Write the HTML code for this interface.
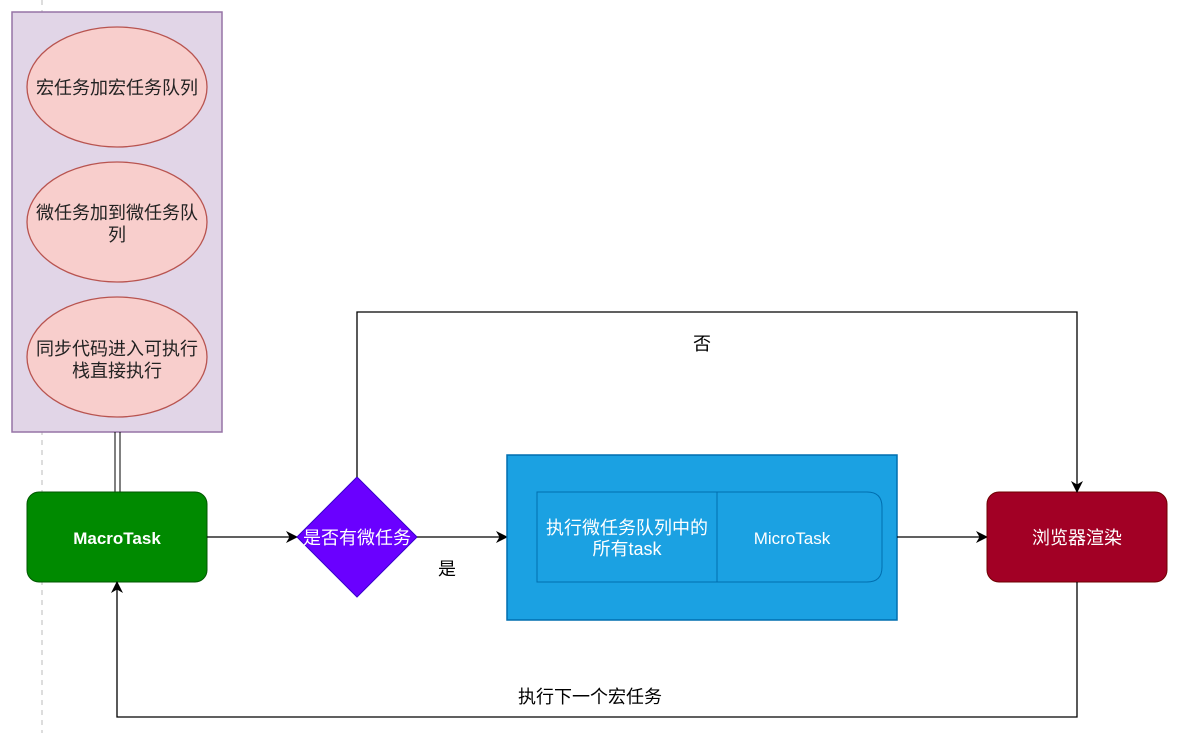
<!DOCTYPE html>
<html><head><meta charset="utf-8"><style>
html,body{margin:0;padding:0;background:#fff;width:1194px;height:733px;overflow:hidden}
text{font-family:"Liberation Sans","Noto Sans CJK SC",sans-serif;font-size:18px}
</style></head><body>
<svg width="1194" height="733" viewBox="0 0 1194 733" xmlns="http://www.w3.org/2000/svg">
<defs><marker id="a" markerWidth="12" markerHeight="12" refX="11" refY="6" orient="auto" markerUnits="userSpaceOnUse"><path d="M0,0 L12,6 L0,12 L3.5,6 Z" fill="#000"/></marker></defs>
<line x1="42" y1="0" x2="42" y2="733" stroke="#bbb" stroke-dasharray="5,5"/>
<rect x="12" y="12" width="210" height="420" fill="#e1d5e7" stroke="#9673a6" stroke-width="1.5"/>
<g fill="#f8cecc" stroke="#b85450" stroke-width="1.3">
<ellipse cx="117" cy="87" rx="90" ry="60"/>
<ellipse cx="117" cy="222" rx="90" ry="60"/>
<ellipse cx="117" cy="357" rx="90" ry="60"/>
</g>
<g fill="#222" text-anchor="middle">
<text x="117" y="94">宏任务加宏任务队列</text>
<text x="117" y="219">微任务加到微任务队</text><text x="117" y="241">列</text>
<text x="117" y="355">同步代码进入可执行</text><text x="117" y="377">栈直接执行</text>
</g>
<line x1="115" y1="432" x2="115" y2="492" stroke="#000"/>
<line x1="120" y1="432" x2="120" y2="492" stroke="#000"/>
<rect x="27" y="492" width="180" height="90" rx="12" fill="#008a00" stroke="#005700"/>
<text x="117" y="544" fill="#fff" text-anchor="middle" font-weight="bold" style="font-size:17px">MacroTask</text>
<line x1="207" y1="537" x2="297" y2="537" stroke="#000" stroke-width="1.3" marker-end="url(#a)"/>
<polygon points="357,477 417,537 357,597 297,537" fill="#6a00ff" stroke="#3700cc"/>
<text x="357" y="544" fill="#fff" text-anchor="middle">是否有微任务</text>
<line x1="417" y1="537" x2="507" y2="537" stroke="#000" stroke-width="1.3" marker-end="url(#a)"/>
<text x="447" y="575" fill="#000" text-anchor="middle">是</text>
<rect x="507" y="455" width="390" height="165" fill="#1ba1e2" stroke="#006eaf" stroke-width="1.5"/>
<path d="M537,492 H867 Q882,492 882,507 V567 Q882,582 867,582 H537 Z" fill="#1ba1e2" stroke="#006eaf"/>
<line x1="717" y1="492" x2="717" y2="582" stroke="#006eaf"/>
<text x="627" y="534" fill="#fff" text-anchor="middle">执行微任务队列中的</text>
<text x="627" y="555" fill="#fff" text-anchor="middle">所有task</text>
<text x="792" y="544" fill="#fff" text-anchor="middle" style="font-size:17px">MicroTask</text>
<line x1="897" y1="537" x2="987" y2="537" stroke="#000" stroke-width="1.3" marker-end="url(#a)"/>
<rect x="987" y="492" width="180" height="90" rx="12" fill="#a20025" stroke="#6f0000"/>
<text x="1077" y="544" fill="#fff" text-anchor="middle">浏览器渲染</text>
<polyline points="357,477 357,312 1077,312 1077,492" fill="none" stroke="#000" stroke-width="1.3" marker-end="url(#a)"/>
<text x="702" y="350" fill="#000" text-anchor="middle">否</text>
<polyline points="1077,582 1077,717 117,717 117,582" fill="none" stroke="#000" stroke-width="1.3" marker-end="url(#a)"/>
<text x="590" y="703" fill="#000" text-anchor="middle">执行下一个宏任务</text>
</svg>
</body></html>
